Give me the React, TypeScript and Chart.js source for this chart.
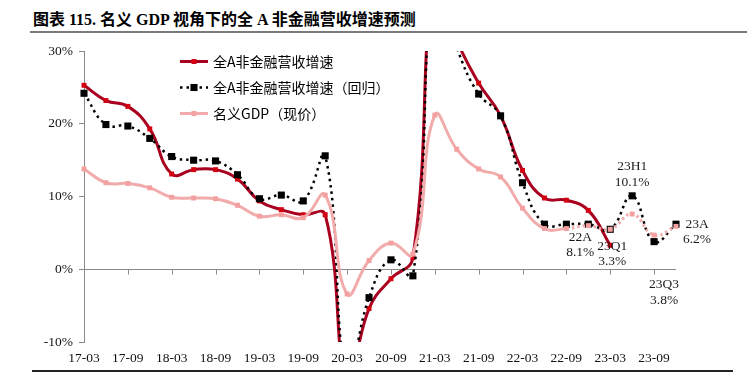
import React, { useEffect, useRef } from "react";
import { Chart, registerables } from "chart.js";

Chart.register(...registerables);

const TITLE = "图表 115. 名义 GDP 视角下的全 A 非金融营收增速预测";
const SOURCE = "资料来源：Wind，华泰研究预测";

const quarters = [
  "17-03", "17-06", "17-09", "17-12",
  "18-03", "18-06", "18-09", "18-12",
  "19-03", "19-06", "19-09", "19-12",
  "20-03", "20-06", "20-09", "20-12",
  "21-03", "21-06", "21-09", "21-12",
  "22-03", "22-06", "22-09", "22-12",
  "23-03", "23-06", "23-09", "23-12",
];

const seriesNames = ["全A非金融营收增速", "全A非金融营收增速（回归）", "名义GDP（现价）"];

const revenueGrowth = [
  25.3, 23.2, 22.4, 19.3,
  13.1, 13.7, 13.7, 12.4,
  9.4, 8.2, 7.5, 7.5,
  -15.5, -5.4, -1.3, 1.6,
  40.0, 31.5, 25.6, 21.1,
  13.6, 9.8, 9.5, 8.1,
  3.3, null, null, null,
];

const revenueRegression = [
  24.2, 19.9, 19.7, 18.0,
  15.5, 15.0, 14.9, 13.0,
  9.7, 10.2, 9.4, 15.6,
  -15.0, -3.9, 1.3, -0.9,
  40.0, 30.5, 24.1, 21.1,
  11.9, 6.2, 6.2, 6.2,
  5.5, 10.1, 3.8, 6.2,
];

const nominalGDP = [
  13.8, 11.9, 11.8, 11.2,
  9.9, 9.8, 9.7, 8.8,
  7.3, 7.5, 7.1, 10.2,
  -3.4, 1.2, 3.6, 2.1,
  21.2, 16.5, 13.8, 12.7,
  8.4, 5.6, 5.6, 6.0,
  5.5, 7.6, 4.7, 5.9,
];

const yMin = -10;
const yMax = 30;
const yStep = 10;

// annotation texts, bound to a series and a quarter
const annotationSeries = [0, 0, 1, 1, 1];
const annotationIndex = [23, 24, 25, 26, 27];
const annotationLines = [
  ["22A", "8.1%"],
  ["23Q1", "3.3%"],
  ["23H1", "10.1%"],
  ["23Q3", "3.8%"],
  ["23A", "6.2%"],
];
// label placement offsets (px) relative to the point
const annotationOffsets = [
  [-8, 27],
  [2, 1],
  [0, -29],
  [10, 43],
  [21, 0],
];

const forecastStart = 22; // nominal GDP turns dotted from this quarter

const RED = "#A8001E";
const RED_POINT = "#D20010";
const PINK = "#F2ABAB";
const PINK_POINT = "#F5A0A0";
const SERIF = '"Liberation Serif", "Times New Roman", serif';
const CJK = '"Noto Sans CJK SC", sans-serif';

const lineStyles = [
  { color: RED, width: 3, dash: [] as number[], point: RED_POINT, r: 3.5 },
  { color: "#000", width: 2.5, dash: [2.5, 4], point: "#000", r: 5 },
  { color: PINK, width: 3, dash: [] as number[], point: PINK_POINT, r: 3.5 },
];

const zeroAxisPlugin = {
  id: "zeroAxis",
  beforeDatasetsDraw(chart: any) {
    const { ctx, chartArea, scales } = chart;
    const y0 = Math.round(scales.y.getPixelForValue(0)) + 0.5;
    ctx.save();
    ctx.strokeStyle = "#8a8a8a";
    ctx.lineWidth = 1;
    ctx.beginPath();
    ctx.moveTo(chartArea.left, y0);
    ctx.lineTo(chartArea.right, y0);
    for (let i = 0; i < quarters.length; i += 2) {
      const x = Math.round(scales.x.getPixelForValue(i)) + 0.5;
      ctx.moveTo(x, y0);
      ctx.lineTo(x, y0 + 5);
    }
    ctx.stroke();
    ctx.restore();
  },
};

const legendPlugin = {
  id: "innerLegend",
  afterDraw(chart: any) {
    const { ctx, chartArea } = chart;
    const x0 = chartArea.left + 96;
    const y0 = chartArea.top + 10;
    const rowGap = 25.7;
    ctx.save();
    seriesNames.forEach((name, i) => {
      const st = lineStyles[i];
      const y = Math.round(y0 + i * rowGap) + 0.5;
      ctx.strokeStyle = st.color;
      ctx.lineWidth = st.width;
      ctx.setLineDash(st.dash);
      ctx.beginPath();
      ctx.moveTo(x0, y);
      ctx.lineTo(x0 + 28, y);
      ctx.stroke();
      ctx.setLineDash([]);
      const s = st.r * Math.SQRT1_2;
      ctx.fillStyle = st.point;
      ctx.fillRect(x0 + 14 - s, y - s, 2 * s, 2 * s);
      ctx.fillStyle = "#000";
      ctx.font = "14px " + CJK;
      ctx.textBaseline = "middle";
      ctx.textAlign = "left";
      ctx.fillText(name, x0 + 33, y);
    });
    ctx.restore();
  },
};

const annotationPlugin = {
  id: "pointNotes",
  afterDatasetsDraw(chart: any) {
    const { ctx, scales } = chart;
    const seriesData = [revenueGrowth, revenueRegression, nominalGDP];
    ctx.save();
    ctx.font = "13.5px " + SERIF;
    ctx.fillStyle = "#1a1a1a";
    ctx.textAlign = "center";
    ctx.textBaseline = "middle";
    annotationLines.forEach((lines, k) => {
      const idx = annotationIndex[k];
      const v = seriesData[annotationSeries[k]][idx] as number;
      const px = scales.x.getPixelForValue(idx) + annotationOffsets[k][0];
      const py = scales.y.getPixelForValue(v) + annotationOffsets[k][1];
      lines.forEach((t, j) => ctx.fillText(t, px, py + j * 15.5));
    });
    ctx.restore();
  },
};

export default function App() {
  const ref = useRef<HTMLCanvasElement>(null);

  useEffect(() => {
    if (!ref.current) return;
    const chart = new Chart(ref.current, {
      type: "line",
      data: {
        labels: quarters,
        datasets: [
          {
            label: seriesNames[0],
            data: revenueGrowth,
            borderColor: RED,
            borderWidth: 3,
            pointStyle: "rect",
            pointRadius: 3.5,
            pointBackgroundColor: RED_POINT,
            pointBorderWidth: 0,
            tension: 0.45,
            order: 3,
          },
          {
            label: seriesNames[1],
            data: revenueRegression,
            borderColor: "#000",
            borderWidth: 2.5,
            borderDash: [2.5, 4],
            pointStyle: "rect",
            pointRadius: 5,
            pointBackgroundColor: "#000",
            pointBorderWidth: 0,
            tension: 0.45,
            order: 2,
          },
          {
            label: seriesNames[2],
            data: nominalGDP,
            borderColor: PINK,
            borderWidth: 3,
            pointStyle: "rect",
            pointRadius: 3.5,
            pointBackgroundColor: PINK_POINT,
            pointBorderWidth: 0,
            tension: 0.45,
            order: 1,
            segment: {
              borderDash: (c: any) => (c.p0DataIndex >= forecastStart ? [2.5, 3] : undefined),
            },
          },
        ] as any,
      },
      options: {
        animation: false,
        responsive: false,
        events: [],
        layout: { padding: { left: 40, right: 71, top: 10, bottom: 4 } },
        plugins: {
          legend: { display: false },
          tooltip: { enabled: false },
          title: { display: false },
        },
        scales: {
          x: {
            type: "category",
            offset: false,
            grid: { display: false },
            border: { display: false },
            ticks: {
              autoSkip: false,
              maxRotation: 0,
              padding: 0,
              color: "#111",
              font: { family: SERIF, size: 13.5 },
              callback: (_v: any, i: number) => (i % 2 === 0 ? quarters[i] : ""),
            },
            afterFit: (s: any) => {
              s.height = 22;
            },
          },
          y: {
            min: yMin,
            max: yMax,
            ticks: {
              stepSize: yStep,
              padding: 6,
              color: "#111",
              font: { family: SERIF, size: 13.5 },
              callback: (v: any) => v + "%",
            },
            grid: {
              display: true,
              drawOnChartArea: false,
              drawTicks: true,
              tickLength: 5,
              color: "#8a8a8a",
            },
            border: { display: true, color: "#8a8a8a" },
            afterFit: (s: any) => {
              s.width = 44;
            },
          },
        },
      } as any,
      plugins: [zeroAxisPlugin, annotationPlugin, legendPlugin],
    });
    return () => chart.destroy();
  }, []);

  return (
    <div
      style={{
        position: "fixed",
        left: 0,
        top: 0,
        width: 747,
        height: 375,
        overflow: "hidden",
        background: "#fff",
      }}
    >
      <div
        style={{
          position: "absolute",
          left: 33,
          top: 9,
          fontFamily: SERIF.replace("serif", "") + CJK,
          fontWeight: "bold",
          fontSize: 16,
          lineHeight: "22px",
          color: "#000",
          whiteSpace: "nowrap",
        }}
      >
        {TITLE}
      </div>
      <div
        style={{
          position: "absolute",
          left: 30,
          top: 31,
          width: 717,
          height: 2,
          background: "#7a7a7a",
        }}
      />
      <canvas
        ref={ref}
        width={747}
        height={331}
        style={{ position: "absolute", left: 0, top: 37, display: "block" }}
      />
      <div
        style={{
          position: "absolute",
          left: 32,
          top: 370,
          width: 701,
          height: 1.5,
          background: "#222",
        }}
      />
      <div
        style={{
          position: "absolute",
          left: 34,
          top: 374,
          fontFamily: CJK,
          fontSize: 12,
          lineHeight: "16px",
          color: "#333",
          whiteSpace: "nowrap",
        }}
      >
        {SOURCE}
      </div>
    </div>
  );
}
